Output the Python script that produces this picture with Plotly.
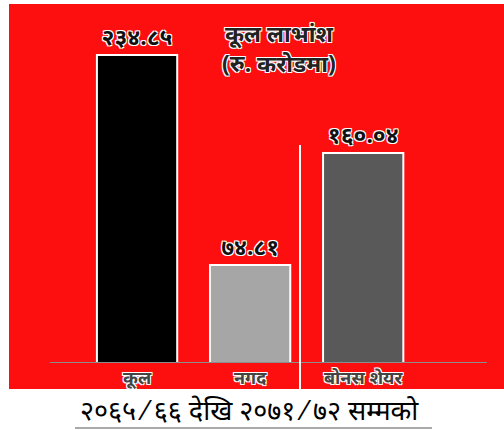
import plotly.graph_objects as go

categories = ["कूल", "नगद", "बोनस शेयर"]
values = [234.85, 74.81, 160.04]
bar_colors = ["#000000", "#a6a6a6", "#595959"]
title_lines = ["कूल लाभांश", "(रु. करोडमा)"]
caption = "२०६५ ⁄ ६६ देखि २०७१ ⁄ ७२ सम्मको"

DEV = str.maketrans("0123456789", "०१२३४५६७८९")
labels = [f"{v:.2f}".translate(DEV) for v in values]

W, H = 504, 430
L, R, T, B = 50, 17, 4, 67
pw, ph = W - L - R, H - T - B

def px(x):
    return (x - L) / pw

def py(y):
    return (H - B - y) / ph

font_fam = "Noto Sans, Lohit Devanagari, FreeSans, sans-serif"
halo = "1px 1px 0 white, -1px -1px 0 white, 1px -1px 0 white, -1px 1px 0 white"

fig = go.Figure()
fig.add_trace(go.Bar(
    x=list(range(len(categories))), y=values,
    marker=dict(color=bar_colors, line=dict(color="white", width=2)),
    width=0.71,
    text=labels, textposition="outside", cliponaxis=False,
    textfont=dict(size=23, color="#111111", family=font_fam, shadow=halo, weight="bold"),
    showlegend=False,
))

shapes = [
    dict(type="rect", xref="paper", yref="paper", x0=px(9), x1=px(505), y0=py(389), y1=py(4),
         fillcolor="#fe0f0f", line=dict(width=0), layer="below"),
    dict(type="line", xref="paper", yref="y", x0=0, x1=1, y0=0, y1=0,
         line=dict(color="#8c8c8c", width=2)),
    dict(type="line", xref="paper", yref="paper", x0=px(300), x1=px(300), y0=py(390), y1=py(145),
         line=dict(color="white", width=2)),
    dict(type="line", xref="paper", yref="paper", x0=px(75), x1=px(432), y0=py(428), y1=py(428),
         line=dict(color="#8c8c8c", width=1.5)),
]

annotations = [
    dict(text="<br>".join(title_lines), xref="paper", yref="paper", x=px(279), y=py(48),
         showarrow=False, xanchor="center", yanchor="middle", align="center",
         font=dict(size=23, color="#222222", family=font_fam, shadow=halo, weight="bold")),
    dict(text=caption, xref="paper", yref="paper", x=px(249), y=py(409), showarrow=False,
         xanchor="center", yanchor="middle",
         font=dict(size=27, color="#000000", family=font_fam)),
]

fig.update_layout(
    width=W, height=H,
    margin=dict(l=L, r=R, t=T, b=B),
    paper_bgcolor="white", plot_bgcolor="rgba(0,0,0,0)",
    shapes=shapes, annotations=annotations,
    xaxis=dict(range=[-0.77, 3.095], tickmode="array", tickvals=list(range(len(categories))),
               ticktext=categories, showgrid=False, zeroline=False, showline=False, ticks="",
               ticklabelstandoff=2,
               tickfont=dict(size=18, color="#444444", family=font_fam, shadow=halo, weight="bold")),
    yaxis=dict(range=[0, 273.7], visible=False),
    bargap=0.3,
)

fig.write_html("out.html", config={"displayModeBar": False},
               post_script="document.body.style.margin='0';document.body.style.overflow='hidden';")
